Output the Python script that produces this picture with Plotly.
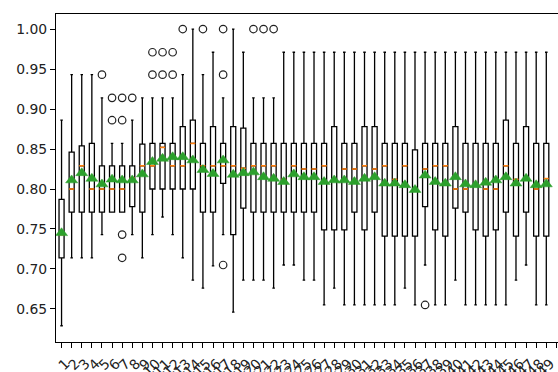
import plotly.graph_objects as go

# ---- data ----
positions = list(range(1, 50))
tick_labels = [str(i) for i in range(1, 51)]

whisker_low = [0.629, 0.714, 0.714, 0.714, 0.743, 0.771, 0.771, 0.743, 0.714, 0.743,
               0.765, 0.743, 0.714, 0.686, 0.676, 0.704, 0.743, 0.646, 0.686, 0.686,
               0.686, 0.676, 0.705, 0.705, 0.686, 0.686, 0.655, 0.676, 0.655, 0.655,
               0.655, 0.655, 0.655, 0.655, 0.676, 0.655, 0.705, 0.655, 0.655, 0.686,
               0.655, 0.655, 0.655, 0.655, 0.655, 0.686, 0.705, 0.655, 0.655]
q1 = [0.714, 0.771, 0.771, 0.771, 0.771, 0.771, 0.771, 0.778, 0.771, 0.800,
      0.800, 0.800, 0.800, 0.800, 0.771, 0.771, 0.807, 0.743, 0.776, 0.771,
      0.771, 0.771, 0.771, 0.771, 0.771, 0.771, 0.749, 0.749, 0.749, 0.771,
      0.749, 0.771, 0.741, 0.741, 0.741, 0.741, 0.778, 0.749, 0.741, 0.776,
      0.771, 0.749, 0.741, 0.749, 0.771, 0.741, 0.771, 0.741, 0.741]
medians = [0.743, 0.800, 0.829, 0.800, 0.800, 0.800, 0.800, 0.814, 0.829, 0.829,
           0.852, 0.829, 0.829, 0.857, 0.829, 0.829, 0.829, 0.829, 0.826, 0.829,
           0.829, 0.829, 0.812, 0.829, 0.825, 0.825, 0.829, 0.811, 0.825, 0.825,
           0.829, 0.825, 0.829, 0.812, 0.829, 0.800, 0.825, 0.829, 0.829, 0.800,
           0.800, 0.805, 0.800, 0.800, 0.829, 0.812, 0.813, 0.800, 0.813]
q3 = [0.787, 0.846, 0.854, 0.857, 0.829, 0.829, 0.829, 0.829, 0.856, 0.857,
      0.857, 0.857, 0.878, 0.886, 0.857, 0.878, 0.857, 0.878, 0.876, 0.857,
      0.857, 0.857, 0.857, 0.857, 0.857, 0.857, 0.857, 0.878, 0.857, 0.857,
      0.878, 0.878, 0.857, 0.857, 0.857, 0.849, 0.857, 0.857, 0.857, 0.878,
      0.857, 0.857, 0.857, 0.857, 0.886, 0.857, 0.878, 0.857, 0.857]
whisker_high = [0.886, 0.943, 0.943, 0.943, 0.914, 0.857, 0.857, 0.886, 0.914, 0.914,
                0.914, 0.914, 0.943, 1.000, 0.943, 0.971, 0.914, 1.000, 0.971, 0.914,
                0.914, 0.914, 0.971, 0.971, 0.971, 0.971, 0.971, 0.971, 0.971, 0.971,
                0.971, 0.971, 0.971, 0.971, 0.971, 0.971, 0.971, 0.971, 0.971, 0.971,
                0.971, 0.971, 0.971, 0.971, 0.971, 0.971, 0.971, 0.971, 0.971]
means = [0.745, 0.811, 0.820, 0.813, 0.806, 0.812, 0.811, 0.811, 0.8185, 0.834,
         0.838, 0.840, 0.840, 0.836, 0.824, 0.819, 0.836, 0.818, 0.820, 0.821,
         0.815, 0.813, 0.809, 0.8185, 0.815, 0.815, 0.809, 0.811, 0.811, 0.809,
         0.813, 0.815, 0.807, 0.807, 0.805, 0.799, 0.817, 0.809, 0.807, 0.815,
         0.806, 0.805, 0.808, 0.811, 0.815, 0.807, 0.813, 0.805, 0.806]

outlier_box = [5, 6, 6, 7, 7, 7, 7, 8, 10, 10, 11, 11, 12, 12, 13, 15, 17, 17, 17, 20, 21, 22, 37]
outlier_val = [0.943, 0.914, 0.886, 0.914, 0.886, 0.743, 0.714, 0.914, 0.971, 0.943,
               0.971, 0.943, 0.971, 0.943, 1.000, 1.000, 1.000, 0.943, 0.705, 1.000,
               1.000, 1.000, 0.655]

y_ticks = [0.65, 0.70, 0.75, 0.80, 0.85, 0.90, 0.95, 1.00]

BOX_W = 0.5
FONT = "DejaVu Sans"

fig = go.Figure()

fig.add_trace(go.Box(
    x=positions, q1=q1, median=medians, q3=q3,
    lowerfence=whisker_low, upperfence=whisker_high,
    width=BOX_W, whiskerwidth=0.5, boxpoints=False,
    line=dict(color="black", width=1.3),
    fillcolor="rgba(0,0,0,0)", hoverinfo="skip",
))

# orange median lines
mx, my = [], []
for p, m in zip(positions, medians):
    mx += [p - BOX_W / 2, p + BOX_W / 2, None]
    my += [m, m, None]
fig.add_trace(go.Scatter(x=mx, y=my, mode="lines",
                         line=dict(color="#ff7f0e", width=1.6), hoverinfo="skip"))

# green mean triangles
fig.add_trace(go.Scatter(x=positions, y=means, mode="markers",
                         marker=dict(symbol="triangle-up", size=10.5, color="#2ca02c",
                                     line=dict(color="#2ca02c", width=0.5)),
                         hoverinfo="skip"))

# outliers
fig.add_trace(go.Scatter(x=outlier_box, y=outlier_val, mode="markers",
                         marker=dict(symbol="circle-open", size=7.5, color="#222222",
                                     line=dict(width=1.2)),
                         hoverinfo="skip"))

fig.update_layout(
    width=558, height=372,
    margin=dict(l=56, r=0, t=14, b=30, autoexpand=False),
    paper_bgcolor="white", plot_bgcolor="white",
    showlegend=False,
    font=dict(family=FONT, size=13.9, color="black"),
)
fig.update_xaxes(
    range=[0.45, 50.16], automargin=False,
    tickmode="array", tickvals=list(range(1, 51)), ticktext=tick_labels,
    tickangle=-45, ticks="outside", ticklen=5, tickwidth=1, tickcolor="black",
    ticklabelshift=4, ticklabelstandoff=2,
    showline=True, linecolor="black", linewidth=1, mirror=True,
    showgrid=False, zeroline=False,
    tickfont=dict(family=FONT, size=13.9, color="#222222"),
)
fig.update_yaxes(
    range=[0.6087, 1.0188], automargin=False,
    tickmode="array", tickvals=y_ticks, ticktext=[f"{v:.2f}" for v in y_ticks],
    ticks="outside", ticklen=5, tickwidth=1, tickcolor="black",
    showline=True, linecolor="black", linewidth=1, mirror=False,
    showgrid=False, zeroline=False,
    tickfont=dict(family=FONT, size=13.9, color="#222222"),
)

fig.write_html("out.html")
